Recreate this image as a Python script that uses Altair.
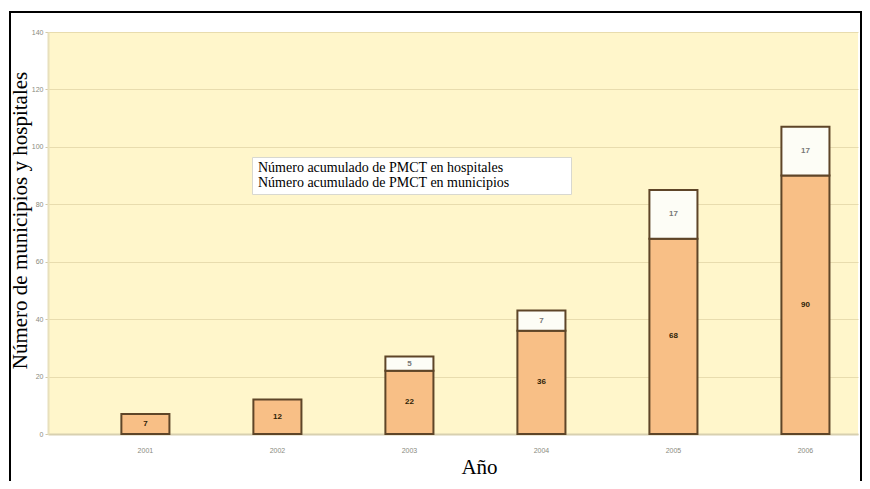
import altair as alt
import pandas as pd

anios = ["2001", "2002", "2003", "2004", "2005", "2006"]
municipios = [7, 12, 22, 36, 68, 90]
hospitales = [0, 0, 5, 7, 17, 17]
serie_muni = "Número acumulado de PMCT en municipios"
serie_hosp = "Número acumulado de PMCT en hospitales"
y_ticks = [0, 20, 40, 60, 80, 100, 120, 140]

rows = []
for a, m, h in zip(anios, municipios, hospitales):
    rows.append(dict(anio=a, serie=serie_muni, valor=m, y0=0, y1=m))
    rows.append(dict(anio=a, serie=serie_hosp, valor=h, y0=m, y1=m + h))
df = pd.DataFrame(rows)
df["mid"] = (df["y0"] + df["y1"]) / 2
df = df[df["valor"] > 0]

xscale = alt.Scale(domain=anios, paddingInner=0.636, paddingOuter=0.386, align=0.72)
yscale = alt.Scale(domain=[0, 140])

x_axis = alt.Axis(
    title="Año", labelAngle=0, labelFontSize=7, labelColor="#8a8a80",
    labelPadding=12, ticks=False, domainColor="#d8d0b0", domainWidth=2,
    titleFont="Liberation Serif", titleFontSize=21, titleFontWeight="normal",
    titleColor="black", titleX=431, titleY=33, titleBaseline="middle",
    titleAlign="center",
)
y_axis = alt.Axis(
    values=y_ticks, title="Número de municipios y hospitales", grid=True,
    gridColor="#e8dcae", gridWidth=1, labelFontSize=7, labelColor="#8a8a80",
    ticks=True, tickColor="#d0c8a8", tickSize=3, domainColor="#e8e0bc",
    domainWidth=2, labelPadding=2,
    titleFont="Liberation Serif", titleFontSize=21, titleFontWeight="normal",
    titleColor="black", titleX=-28, titleY=188, titleAlign="center",
    titleBaseline="middle",
)

base = alt.Chart(df)

bars = base.mark_bar(stroke="#5e4528", strokeWidth=2).encode(
    x=alt.X("anio:N", scale=xscale, axis=x_axis),
    y=alt.Y("y1:Q", scale=yscale, axis=y_axis),
    y2="y0:Q",
    color=alt.Color(
        "serie:N",
        scale=alt.Scale(domain=[serie_hosp, serie_muni], range=["#fdfdf6", "#f8bf86"]),
        legend=alt.Legend(
            title="MMMM", titleOrient="right", titleOpacity=0, titleFontSize=14,
            titlePadding=10,
            orient="none", legendX=204, legendY=125,
            symbolSize=0, symbolStrokeWidth=0, symbolOpacity=0,
            labelFont="Liberation Serif", labelFontSize=14, labelColor="black",
            labelOffset={"expr": "-12"}, labelLimit=600, fillColor="white",
            strokeColor="#d8d8d0", padding=4, rowPadding=1,
        ),
    ),
)

labels = base.mark_text(fontSize=8, fontWeight="bold").encode(
    x=alt.X("anio:N", scale=xscale),
    y=alt.Y("mid:Q", scale=yscale),
    text="valor:Q",
    color=alt.Color(
        "serie:N",
        scale=alt.Scale(domain=[serie_hosp, serie_muni], range=["#777777", "#2e1e08"]),
        legend=None,
    ),
)

frame = alt.Chart(alt.Data(values=[{}])).mark_rect(
    fill=None, stroke="black", strokeWidth=2
).encode(
    x=alt.value(-38), x2=alt.value(813), y=alt.value(-20), y2=alt.value(490)
)

chart = alt.layer(bars, labels, frame).resolve_scale(color="independent").properties(
    width=810, height=402,
    background="white",
    autosize=alt.AutoSizeParams(type="none"),
    padding={"left": 40, "top": 24, "right": 4, "bottom": 47},
).configure_view(fill="#fff6cb", stroke=None)

chart.save("out.html", embed_options={"renderer": "svg", "actions": False})
